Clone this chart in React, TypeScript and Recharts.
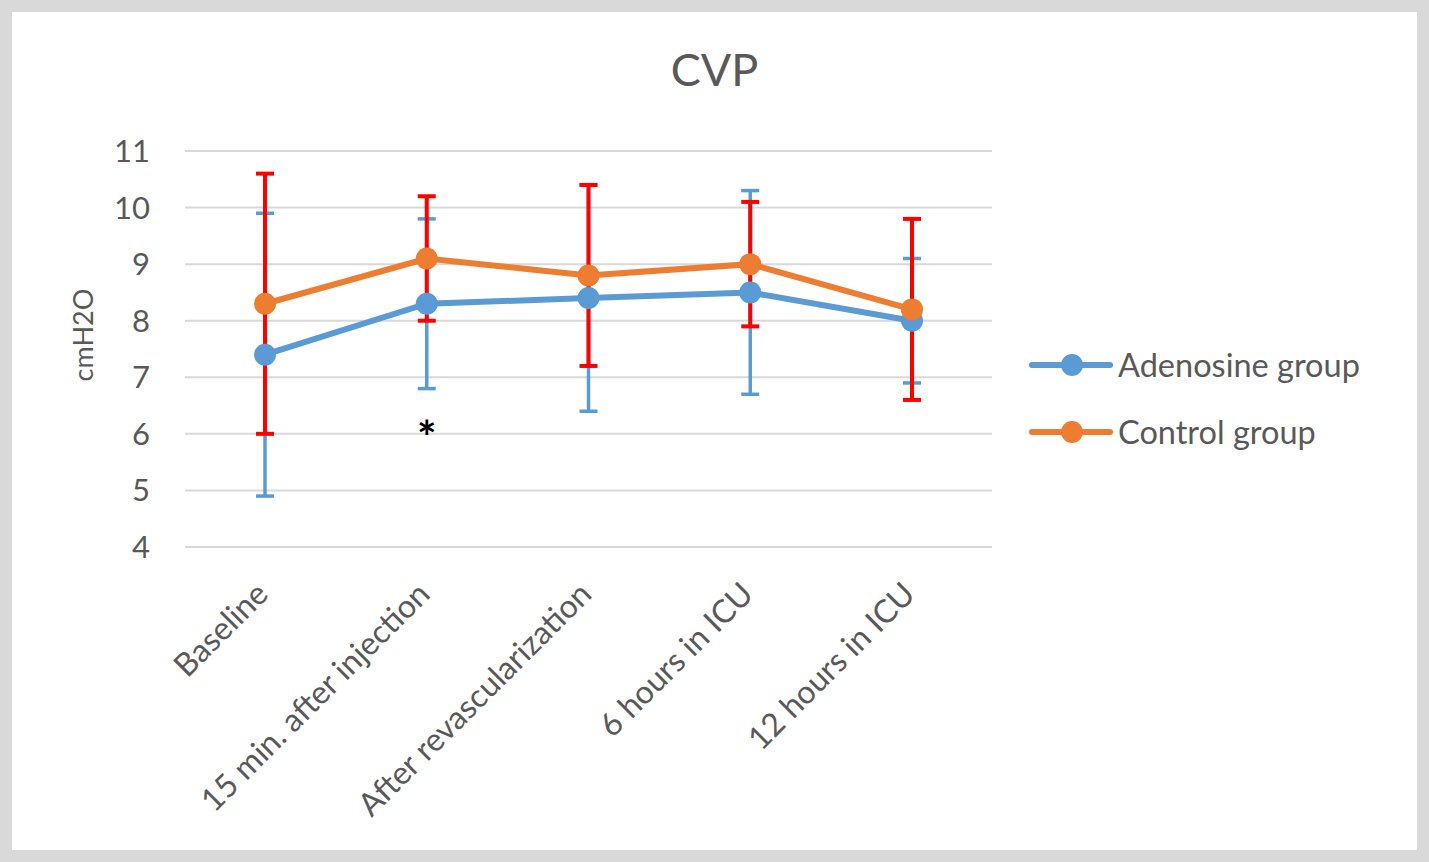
import { LineChart, Line, XAxis, YAxis, CartesianGrid, ErrorBar, ReferenceDot } from 'recharts'

const categories = [
  'Baseline',
  '15 min. after injection',
  'After revascularization',
  '6 hours in ICU',
  '12 hours in ICU',
]
const adenosineMean = [7.4, 8.3, 8.4, 8.5, 8.0]
const adenosineSD = [2.5, 1.5, 2.0, 1.8, 1.1]
const controlMean = [8.3, 9.1, 8.8, 9.0, 8.2]
const controlSD = [2.3, 1.1, 1.6, 1.1, 1.6]
const yTicks = [4, 5, 6, 7, 8, 9, 10, 11]

const BLUE = '#5B9BD5'
const ORANGE = '#ED7D31'
const RED = '#FF0000'
const TEXT = '#595959'
const FONT = 'Lato, "Open Sans", sans-serif'

const data = categories.map((name, i) => ({
  name,
  adenosine: adenosineMean[i],
  adenosineErr: adenosineSD[i],
  control: controlMean[i],
  controlErr: controlSD[i],
}))

function AngledTick({ x, y, payload }: { x?: number; y?: number; payload?: { value: string } }) {
  return (
    <g transform={`translate(${(x ?? 0) + 5},${(y ?? 0) + 49})`}>
      <text textAnchor="end" transform="rotate(-45)" fill={TEXT} fontSize={32} fontFamily={FONT}>
        {payload?.value}
      </text>
    </g>
  )
}

function YLabel({ viewBox }: { viewBox?: { x: number; y: number; width: number; height: number } }) {
  if (!viewBox) return null
  const x = viewBox.x - 32
  const y = viewBox.y + viewBox.height / 2 - 14
  return (
    <text x={x} y={y} transform={`rotate(-90, ${x}, ${y})`} textAnchor="middle" fill={TEXT} fontSize={27} fontFamily={FONT}>
      cmH2O
    </text>
  )
}

function Star(props: { cx?: number; cy?: number }) {
  return (
    <text x={props.cx} y={props.cy} dy={26} textAnchor="middle" fill="#000" fontSize={46} fontWeight={700} fontFamily={FONT}>
      *
    </text>
  )
}

function LegendRow({ color, label, top }: { color: string; label: string; top: number }) {
  return (
    <div style={{ position: 'absolute', left: 1028, top, height: 40, display: 'flex', alignItems: 'center' }}>
      <svg width={86} height={30} style={{ display: 'block' }}>
        <line x1={4} y1={15} x2={82} y2={15} stroke={color} strokeWidth={6} strokeLinecap="round" />
        <circle cx={44} cy={15} r={11} fill={color} />
      </svg>
      <span style={{ marginLeft: 4, fontSize: 32.5, lineHeight: '40px', color: TEXT, fontFamily: FONT }}>{label}</span>
    </div>
  )
}

export default function App() {
  return (
    <div style={{ position: 'absolute', left: 0, top: 0, width: 1429, height: 862, background: '#fff', overflow: 'hidden' }}>
      <div style={{ position: 'absolute', inset: 0, border: '12px solid #d9d9d9', boxSizing: 'border-box' }} />
      <div
        style={{
          position: 'absolute', left: 0, top: 47, width: 1429, textAlign: 'center',
          fontSize: 45, lineHeight: '45px', color: TEXT, fontFamily: FONT,
        }}
      >
        CVP
      </div>

      <div style={{ position: 'absolute', left: 0, top: 0 }}>
        <LineChart width={1429} height={862} data={data} margin={{ top: 151, right: 437, bottom: 285, left: 125 }}>
          <CartesianGrid vertical={false} stroke="#d9d9d9" strokeWidth={2} />
          <XAxis
            dataKey="name"
            axisLine={false}
            tickLine={false}
            tickSize={0}
            tickMargin={0}
            height={30}
            interval={0}
            padding={{ left: 80, right: 80 }}
            tick={<AngledTick />}
          />
          <YAxis
            domain={[4, 11]}
            ticks={yTicks}
            interval={0}
            axisLine={false}
            tickLine={false}
            tickSize={0}
            tickMargin={35}
            width={60}
            tick={{ fill: TEXT, fontSize: 31, fontFamily: FONT }}
            label={<YLabel />}
          />

          {/* error bars first, so that lines and markers sit above them */}
          <Line dataKey="adenosine" stroke="none" dot={false} activeDot={false} legendType="none" isAnimationActive={false}>
            <ErrorBar dataKey="adenosineErr" direction="y" width={9} stroke={BLUE} strokeWidth={3.5} isAnimationActive={false} />
          </Line>
          <Line dataKey="control" stroke="none" dot={false} activeDot={false} legendType="none" isAnimationActive={false}>
            <ErrorBar dataKey="controlErr" direction="y" width={9} stroke={RED} strokeWidth={4} isAnimationActive={false} />
          </Line>

          <Line
            dataKey="adenosine"
            stroke={BLUE}
            strokeWidth={6}
            dot={{ r: 11, fill: BLUE, stroke: BLUE, strokeWidth: 0 }}
            activeDot={false}
            isAnimationActive={false}
          />
          <Line
            dataKey="control"
            stroke={ORANGE}
            strokeWidth={6}
            dot={{ r: 11, fill: ORANGE, stroke: ORANGE, strokeWidth: 0 }}
            activeDot={false}
            isAnimationActive={false}
          />

          <ReferenceDot x={categories[1]} y={6.1} r={0} shape={<Star />} ifOverflow="visible" />
        </LineChart>
      </div>

      <LegendRow color={BLUE} label="Adenosine group" top={345} />
      <LegendRow color={ORANGE} label="Control group" top={412} />
    </div>
  )
}
